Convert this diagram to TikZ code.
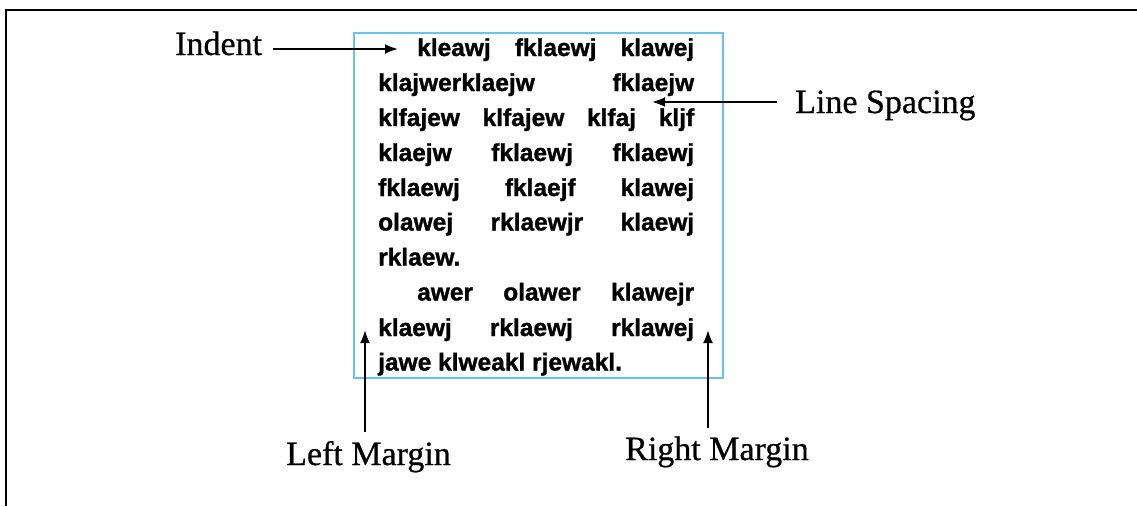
\documentclass[tikz,border=0pt]{standalone}
\usepackage{fontspec}
\setmainfont{Liberation Serif}[FakeBold=0.6]
\newfontfamily\boxfont{Liberation Sans}[FakeBold=1.2]
\usetikzlibrary{arrows.meta}
\definecolor{boxblue}{RGB}{100,195,240}
\begin{document}
\begin{tikzpicture}[x=1pt,y=-1pt,
  lbl/.style={anchor=base west,inner sep=0pt,font=\fontsize{34}{34}\selectfont},
  ln/.style={anchor=base west,inner sep=0pt,font=\boxfont\bfseries\fontsize{24.5}{24.5}\selectfont},
  arr/.style={line width=2pt,-{Latex[length=13pt,width=10pt]}}]
\useasboundingbox (0,0) rectangle (1137,506);
\fill[white] (0,0) rectangle (1137,506);
% frame
\draw[line width=2.8pt] (6,506) -- (6,10) -- (1137,10);
% page box
\node[draw=boxblue,line width=2.2pt,minimum width=369pt,minimum height=345pt,anchor=north west,inner sep=0pt] (page) at (352.7,31.7) {};
% text lines
\node[ln] (l1) at (417,56) {\hbox to 277pt{kleawj\hfill fklaewj\hfill klawej}};
\node[ln] (l2) at (378,91) {\hbox to 316pt{klajwerklaejw\hfill fklaejw}};
\node[ln] (l3) at (378,126) {\hbox to 316pt{klfajew\hfill klfajew\hfill klfaj\hfill kljf}};
\node[ln] (l4) at (378,161) {\hbox to 316pt{klaejw\hfill fklaewj\hfill fklaewj}};
\node[ln] (l5) at (378,196) {\hbox to 316pt{fklaewj\hfill fklaejf\hfill klawej}};
\node[ln] (l6) at (378,230.5) {\hbox to 316pt{olawej\hfill rklaewjr\hfill klaewj}};
\node[ln] (l7) at (378,265.5) {rklaew.};
\node[ln] (l8) at (417,300.5) {\hbox to 277pt{awer\hfill olawer\hfill klawejr}};
\node[ln] (l9) at (378,336) {\hbox to 316pt{klaewj\hfill rklaewj\hfill rklawej}};
\node[ln] (l10) at (378,370.5) {jawe klweakl rjewakl.};
% labels
\node[lbl] (indent) at (175,55) {Indent};
\node[lbl] (spacing) at (795,113) {Line Spacing};
\node[lbl] (lmargin) at (286,465) {Left Margin};
\node[lbl] (rmargin) at (625,460) {Right Margin};
% arrow ends
\coordinate (indentS) at (273,49);
\coordinate (indentT) at (398,49);
\coordinate (spacingS) at (777,102);
\coordinate (spacingT) at (652,102);
\coordinate (lmS) at (365,432);
\coordinate (lmT) at (365,330);
\coordinate (rmS) at (708,428);
\coordinate (rmT) at (708,330);
\draw[arr] (indentS) -- (indentT);
\draw[arr] (spacingS) -- (spacingT);
\draw[arr] (lmS) -- (lmT);
\draw[arr] (rmS) -- (rmT);
\end{tikzpicture}
\end{document}
